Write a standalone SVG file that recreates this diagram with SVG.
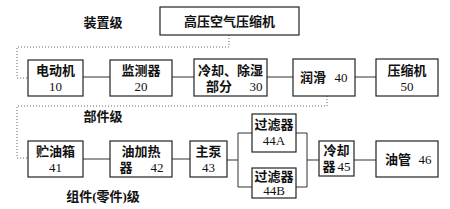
<svg xmlns="http://www.w3.org/2000/svg" width="450" height="209" viewBox="0 0 450 209">
<style>
.box{fill:#fff;stroke:#222;stroke-width:1.2}
.ln{fill:none;stroke:#333;stroke-width:1}
.dot{fill:none;stroke:#666;stroke-width:1;stroke-dasharray:1 2}
text{font-family:"Liberation Serif","Noto Sans CJK SC",serif;font-size:13px;fill:#111;font-weight:bold;text-anchor:middle}
.num{font-weight:normal}
</style>
<rect width="450" height="209" fill="#fff"/>
<g id="connectors">
<path class="dot" d="M229,35 V47 M229,47 H17 V78 H28"/>
<path class="dot" d="M327,96 V106 H17 V158 H28"/>
<path class="ln" d="M83,77 H110 M172,77 H194 M267,77 H293 M355,77 H376"/>
<path class="ln" d="M83,159 H110 M172,159 H190 M227,160 H238 M238,133 V187 M238,133 H252 M238,187 H252 M296,133 H307 V187 H296 M307,160 H319 M354,160 H376"/>
</g>
<g id="top"><rect class="box" x="160" y="7" width="139" height="28"/><text x="229.5" y="26">高压空气压缩机</text></g>
<g id="lbl1"><text x="103" y="27">装置级</text></g>
<g id="n10"><rect class="box" x="28" y="60" width="55" height="36"/><text x="55.5" y="75">电动机</text><text class="num" x="55.5" y="91">10</text></g>
<g id="n20"><rect class="box" x="110" y="60" width="62" height="36"/><text x="141" y="75">监测器</text><text class="num" x="141" y="91">20</text></g>
<g id="n30"><rect class="box" x="194" y="59" width="73" height="37"/><text x="230.5" y="75">冷却、除湿</text><text x="219" y="91">部分</text><text class="num" x="256" y="91">30</text></g>
<g id="n40"><rect class="box" x="293" y="59" width="62" height="37"/><text x="313" y="82">润滑</text><text class="num" x="341" y="82">40</text></g>
<g id="n50"><rect class="box" x="376" y="59" width="62" height="37"/><text x="407" y="75">压缩机</text><text class="num" x="407" y="91">50</text></g>
<g id="lbl2"><text x="103" y="121">部件级</text></g>
<g id="n41"><rect class="box" x="28" y="141" width="55" height="36"/><text x="55.5" y="156">贮油箱</text><text class="num" x="55.5" y="172">41</text></g>
<g id="n42"><rect class="box" x="110" y="141" width="62" height="36"/><text x="141" y="156">油加热</text><text x="126" y="172">器</text><text class="num" x="157" y="172">42</text></g>
<g id="n43"><rect class="box" x="190" y="141" width="37" height="36"/><text x="208.5" y="156">主泵</text><text class="num" x="208.5" y="172">43</text></g>
<g id="n44a"><rect class="box" x="252" y="114" width="44" height="38"/><text x="274" y="129">过滤器</text><text class="num" x="274" y="145">44A</text></g>
<g id="n44b"><rect class="box" x="252" y="168" width="44" height="30"/><text x="274" y="181">过滤器</text><text class="num" x="274" y="195">44B</text></g>
<g id="n45"><rect class="box" x="319" y="141" width="35" height="35"/><text x="336.5" y="155">冷却</text><text x="329" y="171">器</text><text class="num" x="344" y="171">45</text></g>
<g id="n46"><rect class="box" x="376" y="141" width="62" height="36"/><text x="398" y="164">油管</text><text class="num" x="425" y="164">46</text></g>
<g id="lbl3"><text x="103" y="201">组件(零件)级</text></g>
</svg>
